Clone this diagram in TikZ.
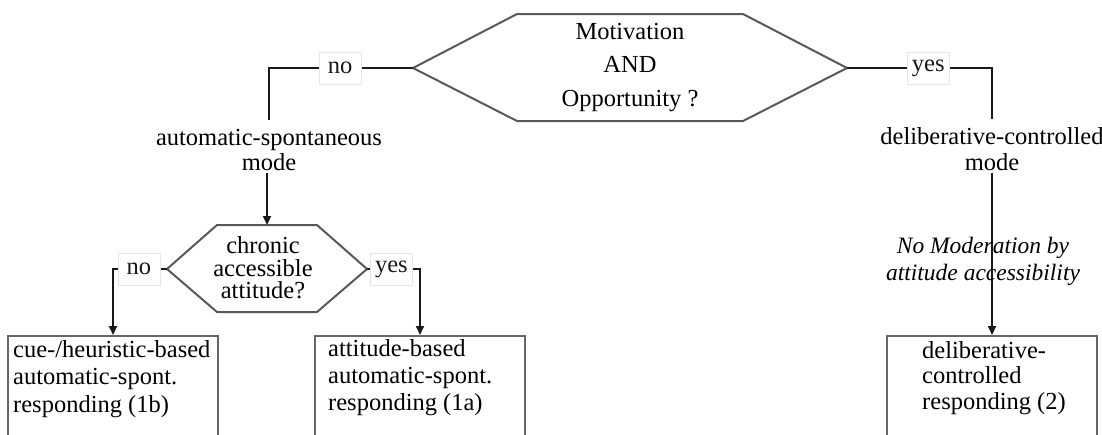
\documentclass[tikz,border=0pt]{standalone}
\usepackage{fontspec}
\setmainfont{Liberation Serif}
\usetikzlibrary{arrows.meta}

\tikzset{
  every node/.style={font=\fontsize{24.5}{25}\selectfont},
  conn/.style={line width=1.7pt, black!90},
  arr/.style={conn, -{Triangle[length=9pt,width=8pt]}},
  hexa/.style={line width=2pt, black!65, line join=miter},
  rbox/.style={draw=black!60, line width=2pt, minimum width=210pt, minimum height=120pt, anchor=north},
  lbl/.style={draw=black!10, fill=white, line width=0.8pt, minimum width=42pt, minimum height=32pt, inner sep=1pt},
  btext/.style={align=left, anchor=north west, inner sep=0pt},
}

\begin{document}
\begin{tikzpicture}[x=1pt,y=-1pt]
\useasboundingbox (0,0) rectangle (1102,434);
\clip (0,0) rectangle (1102,434);

% first decision
\node[align=center, font=\fontsize{24.5}{33.5}\selectfont] (mao) at (630,67.5) {Motivation\\AND\\Opportunity ?};
\draw[hexa] (413,68) coordinate (maoW) -- (517,14) -- (743,14) -- (847,68) coordinate (maoE) -- (743,121) -- (517,121) -- cycle;

% the two modes
\node[align=center, inner sep=2pt] (automode) at (269,150) {automatic-spontaneous\\mode};
\node[align=center, inner sep=2pt, font=\fontsize{24.5}{26}\selectfont] (delmode) at (992,149.5) {deliberative-controlled\\mode};
\draw[conn, shorten >=7pt] (maoW) -| node[lbl, pos=0.253]{no} (automode.north);
\draw[conn, shorten >=7pt] (maoE) -| node[lbl, pos=0.28]{yes} (delmode.north);

% second decision
\node[align=center, font=\fontsize{24.5}{22.5}\selectfont] (chron) at (263,268) {chronic\\accessible\\attitude?};
\draw[hexa] (167,269) coordinate (chronW) -- (217,225) -- (317,225) -- (367,269) coordinate (chronE) -- (317,312) -- (217,312) -- cycle;
\coordinate (chronN) at (267,225);
\draw[arr] (automode.south -| chronN) -- (chronN);

% responding boxes
\node[rbox] (cueBox) at (113,335) {};
\node[rbox] (attBox) at (420,335) {};
\node[rbox] (delBox) at (992,335) {};
\node[btext, font=\fontsize{24.5}{27.5}\selectfont] (cueTxt) at (13,340) {cue-/heuristic-based\\automatic-spont.\\responding (1b)};
\node[btext, font=\fontsize{24.5}{27}\selectfont] (attTxt) at (328,339) {attitude-based\\automatic-spont.\\responding (1a)};
\node[btext, font=\fontsize{24.5}{25.5}\selectfont] (delTxt) at (922,341) {deliberative-\\controlled\\responding (2)};

\draw[arr] (chronW) -| node[lbl, pos=0.26]{no} (cueBox.north);
\draw[arr] (chronE) -| node[lbl, pos=0.23]{yes} (attBox.north);
\draw[arr] (delmode.south) -- (delBox.north);
\node[align=center, font=\itshape\fontsize{23.5}{27}\selectfont] (noModer) at (983,261) {No Moderation by\\attitude accessibility};
\end{tikzpicture}
\end{document}
